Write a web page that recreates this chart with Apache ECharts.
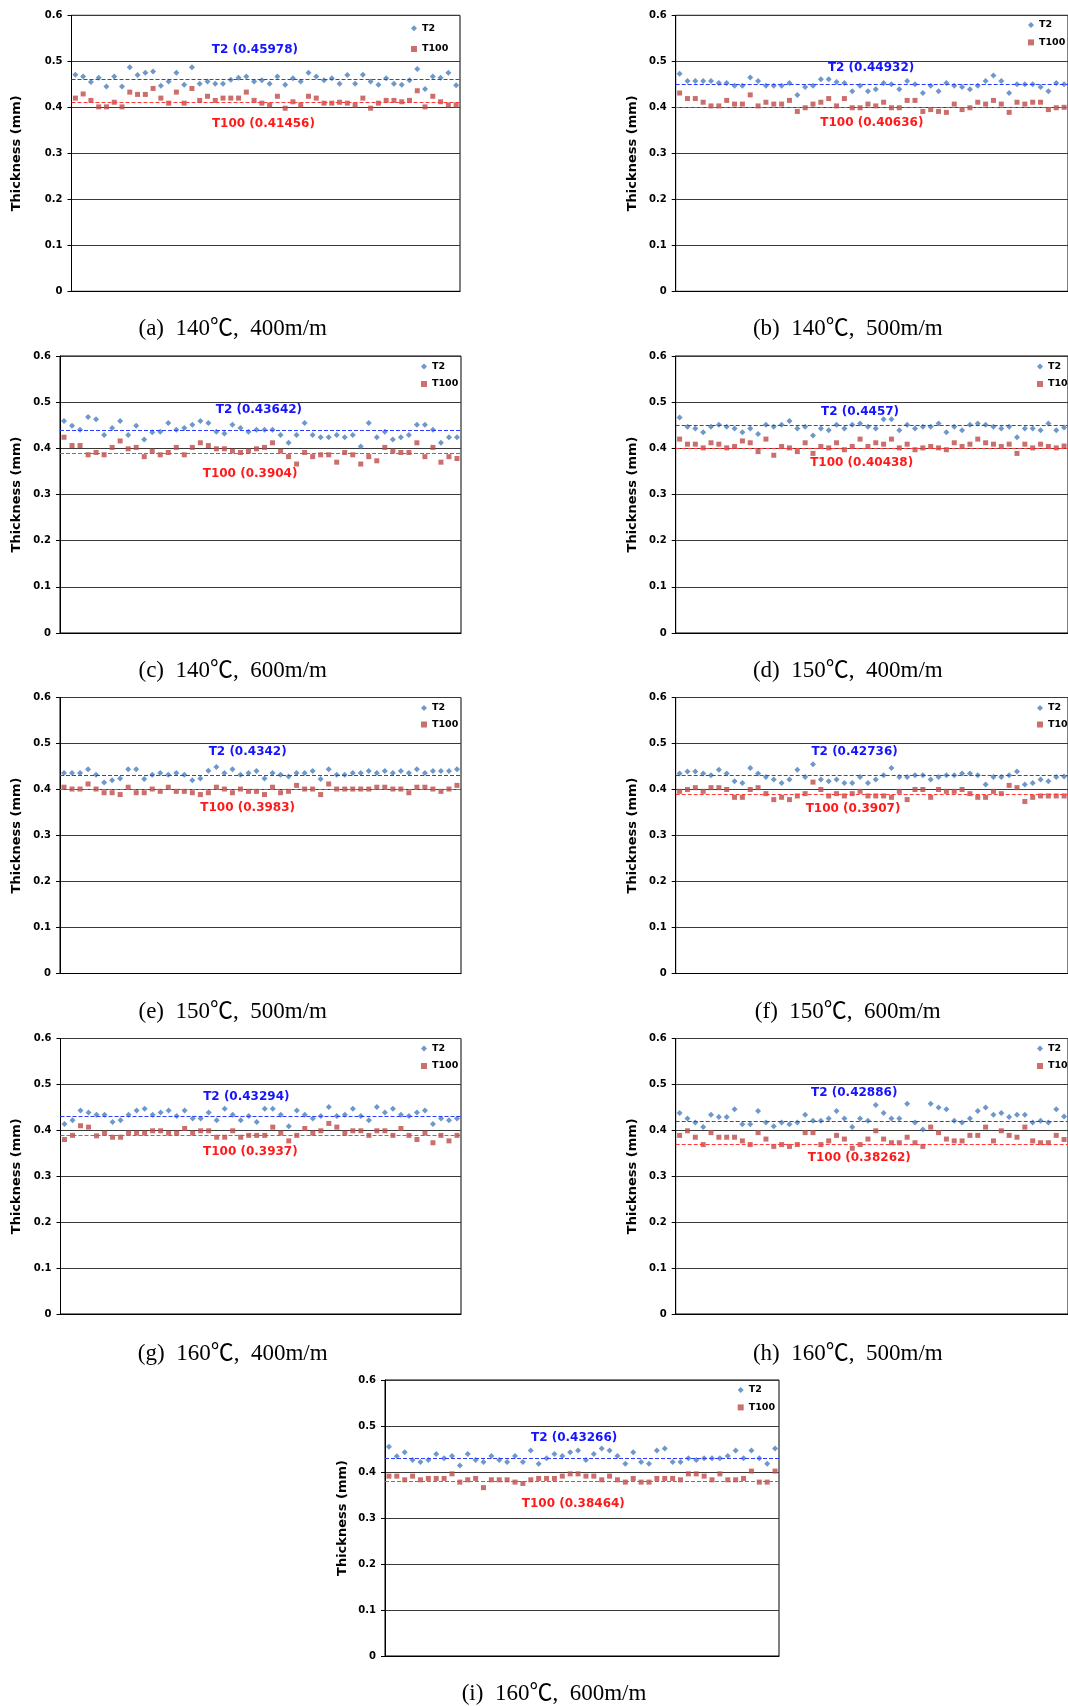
<!DOCTYPE html>
<html><head><meta charset="utf-8">
<script src="https://cdn.jsdelivr.net/npm/echarts@6/dist/echarts.min.js"></script>
<style>html,body{margin:0;padding:0;background:#fff}#c{width:1068px;height:1706px}</style>
</head><body><div id="c"></div><script>
// ---------------- DATA ----------------
const panels = ['a','b','c','d','e','f','g','h','i'];
const captions = ['(a)  140℃,  400m/m','(b)  140℃,  500m/m','(c)  140℃,  600m/m',
                  '(d)  150℃,  400m/m','(e)  150℃,  500m/m','(f)  150℃,  600m/m',
                  '(g)  160℃,  400m/m','(h)  160℃,  500m/m','(i)  160℃,  600m/m'];
const yTickLabels = ['0','0.1','0.2','0.3','0.4','0.5','0.6'];
const seriesNames = ['T2','T100'];

const t2_a = [0.471,0.467,0.455,0.464,0.445,0.467,0.445,0.487,0.470,0.475,0.478,0.447,0.456,0.475,0.449,0.487,0.451,0.456,0.451,0.451,0.460,0.464,0.467,0.456,0.459,0.451,0.467,0.449,0.463,0.456,0.475,0.467,0.459,0.463,0.451,0.470,0.451,0.471,0.456,0.449,0.463,0.451,0.449,0.459,0.483,0.440,0.467,0.464,0.475,0.448];
const t100_a = [0.420,0.429,0.415,0.401,0.401,0.411,0.401,0.433,0.428,0.428,0.441,0.420,0.409,0.433,0.409,0.441,0.415,0.424,0.415,0.420,0.420,0.420,0.433,0.415,0.409,0.405,0.424,0.398,0.412,0.405,0.424,0.420,0.409,0.409,0.411,0.409,0.405,0.420,0.398,0.409,0.415,0.415,0.412,0.415,0.436,0.401,0.424,0.412,0.405,0.405];
const t2_b = [0.473,0.457,0.457,0.457,0.457,0.453,0.453,0.447,0.447,0.465,0.457,0.447,0.447,0.447,0.453,0.427,0.444,0.447,0.461,0.461,0.455,0.453,0.435,0.447,0.435,0.439,0.453,0.450,0.439,0.457,0.450,0.431,0.447,0.435,0.453,0.447,0.444,0.439,0.447,0.457,0.469,0.457,0.431,0.450,0.450,0.450,0.444,0.435,0.453,0.450];
const t100_b = [0.431,0.419,0.419,0.411,0.403,0.403,0.415,0.407,0.407,0.427,0.403,0.411,0.407,0.407,0.415,0.391,0.399,0.407,0.411,0.419,0.403,0.419,0.399,0.399,0.407,0.403,0.411,0.399,0.399,0.415,0.415,0.391,0.395,0.391,0.389,0.407,0.395,0.399,0.411,0.407,0.415,0.407,0.389,0.411,0.407,0.411,0.411,0.395,0.399,0.400];
const t2_c = [0.459,0.449,0.440,0.468,0.463,0.429,0.444,0.459,0.429,0.449,0.419,0.435,0.436,0.455,0.440,0.444,0.451,0.459,0.455,0.436,0.432,0.451,0.444,0.436,0.440,0.440,0.440,0.429,0.412,0.429,0.455,0.429,0.424,0.424,0.429,0.424,0.429,0.404,0.455,0.424,0.436,0.419,0.424,0.429,0.451,0.451,0.440,0.412,0.424,0.424];
const t100_c = [0.424,0.406,0.406,0.386,0.391,0.386,0.402,0.416,0.399,0.402,0.382,0.394,0.386,0.391,0.402,0.386,0.402,0.412,0.406,0.399,0.399,0.394,0.391,0.394,0.399,0.402,0.412,0.394,0.382,0.366,0.391,0.382,0.386,0.386,0.370,0.391,0.386,0.366,0.382,0.373,0.402,0.394,0.391,0.391,0.412,0.382,0.402,0.370,0.382,0.378];
const t2_d = [0.467,0.447,0.443,0.435,0.447,0.451,0.447,0.443,0.435,0.443,0.431,0.451,0.447,0.451,0.459,0.443,0.447,0.428,0.443,0.439,0.451,0.443,0.451,0.454,0.447,0.443,0.463,0.463,0.439,0.451,0.443,0.447,0.447,0.454,0.435,0.447,0.439,0.451,0.454,0.451,0.447,0.443,0.447,0.424,0.443,0.443,0.439,0.454,0.439,0.445];
const t100_d = [0.420,0.409,0.409,0.401,0.412,0.409,0.401,0.404,0.416,0.412,0.393,0.420,0.385,0.404,0.401,0.393,0.412,0.389,0.404,0.401,0.412,0.397,0.404,0.420,0.404,0.412,0.409,0.420,0.401,0.409,0.397,0.401,0.404,0.401,0.397,0.412,0.404,0.409,0.420,0.412,0.409,0.404,0.409,0.389,0.409,0.401,0.409,0.404,0.401,0.405];
const t2_e = [0.436,0.436,0.436,0.444,0.432,0.415,0.420,0.424,0.444,0.444,0.423,0.432,0.436,0.432,0.436,0.432,0.420,0.424,0.441,0.449,0.436,0.444,0.432,0.436,0.440,0.424,0.436,0.432,0.428,0.436,0.436,0.440,0.423,0.444,0.432,0.432,0.436,0.436,0.440,0.436,0.440,0.436,0.440,0.436,0.444,0.436,0.440,0.440,0.440,0.444];
const t100_e = [0.405,0.401,0.401,0.412,0.401,0.393,0.393,0.389,0.405,0.393,0.393,0.401,0.396,0.405,0.396,0.396,0.393,0.389,0.393,0.405,0.401,0.393,0.401,0.396,0.396,0.389,0.405,0.393,0.396,0.409,0.401,0.401,0.389,0.412,0.401,0.401,0.401,0.401,0.401,0.405,0.405,0.401,0.401,0.393,0.405,0.405,0.401,0.396,0.401,0.409];
const t2_f = [0.435,0.439,0.439,0.435,0.431,0.443,0.435,0.418,0.414,0.447,0.435,0.427,0.422,0.414,0.422,0.443,0.427,0.455,0.422,0.418,0.422,0.414,0.414,0.427,0.414,0.422,0.431,0.447,0.427,0.427,0.431,0.431,0.422,0.427,0.431,0.431,0.435,0.435,0.431,0.411,0.427,0.427,0.431,0.439,0.411,0.414,0.422,0.418,0.427,0.428];
const t100_f = [0.396,0.400,0.404,0.396,0.404,0.404,0.400,0.383,0.383,0.400,0.404,0.391,0.378,0.383,0.378,0.386,0.391,0.416,0.400,0.386,0.391,0.386,0.391,0.396,0.386,0.386,0.386,0.383,0.396,0.378,0.400,0.400,0.383,0.400,0.396,0.396,0.400,0.391,0.383,0.383,0.396,0.391,0.409,0.404,0.374,0.383,0.386,0.386,0.386,0.386];
const t2_g = [0.414,0.422,0.443,0.439,0.434,0.434,0.418,0.422,0.434,0.443,0.447,0.434,0.439,0.443,0.431,0.443,0.426,0.426,0.439,0.422,0.447,0.434,0.422,0.431,0.418,0.447,0.447,0.434,0.409,0.443,0.434,0.426,0.431,0.451,0.431,0.434,0.447,0.431,0.422,0.451,0.439,0.447,0.434,0.431,0.439,0.443,0.414,0.426,0.422,0.426];
const t100_g = [0.380,0.389,0.410,0.407,0.388,0.394,0.385,0.385,0.394,0.394,0.394,0.399,0.399,0.394,0.394,0.404,0.394,0.399,0.399,0.385,0.385,0.399,0.385,0.389,0.389,0.389,0.407,0.394,0.377,0.389,0.404,0.394,0.399,0.415,0.407,0.394,0.399,0.399,0.389,0.399,0.399,0.389,0.404,0.389,0.380,0.394,0.373,0.389,0.377,0.389];
const t2_h = [0.438,0.426,0.417,0.407,0.434,0.429,0.429,0.446,0.413,0.413,0.442,0.417,0.409,0.417,0.413,0.417,0.434,0.421,0.421,0.426,0.442,0.426,0.407,0.426,0.421,0.455,0.438,0.426,0.426,0.458,0.417,0.402,0.458,0.450,0.446,0.421,0.417,0.426,0.442,0.450,0.434,0.438,0.429,0.434,0.434,0.417,0.421,0.417,0.446,0.430];
const t100_h = [0.389,0.399,0.385,0.369,0.395,0.385,0.385,0.385,0.377,0.369,0.395,0.381,0.365,0.369,0.365,0.369,0.395,0.395,0.369,0.377,0.389,0.381,0.361,0.369,0.381,0.399,0.381,0.373,0.373,0.385,0.373,0.365,0.407,0.395,0.381,0.377,0.377,0.389,0.389,0.407,0.377,0.399,0.389,0.385,0.407,0.377,0.373,0.373,0.389,0.380];
const t2_i = [0.455,0.434,0.443,0.426,0.422,0.426,0.439,0.430,0.435,0.414,0.439,0.426,0.422,0.435,0.426,0.422,0.435,0.422,0.447,0.418,0.430,0.439,0.435,0.443,0.447,0.426,0.439,0.451,0.447,0.435,0.418,0.443,0.422,0.418,0.447,0.451,0.422,0.422,0.430,0.426,0.430,0.430,0.430,0.435,0.447,0.430,0.447,0.430,0.418,0.451];
const t100_i = [0.391,0.391,0.383,0.391,0.383,0.386,0.386,0.386,0.396,0.378,0.383,0.386,0.366,0.383,0.383,0.383,0.378,0.375,0.383,0.386,0.386,0.386,0.391,0.396,0.396,0.391,0.391,0.383,0.391,0.383,0.378,0.386,0.378,0.378,0.386,0.386,0.386,0.383,0.396,0.396,0.391,0.383,0.396,0.383,0.383,0.386,0.402,0.378,0.378,0.402];

// stated means (label text) and drawn dashed-line levels
const t2MeanText   = ['0.45978','0.44932','0.43642','0.4457','0.4342','0.42736','0.43294','0.42886','0.43266'];
const t100MeanText = ['0.41456','0.40636','0.3904','0.40438','0.3983','0.3907','0.3937','0.38262','0.38464'];
const t2DashLevel   = [0.458,0.449,0.438,0.450,0.433,0.4275,0.4336,0.425,0.426];
const t100DashLevel = [0.409,0.400,0.3936,0.4007,0.398,0.3877,0.3905,0.3745,0.376];

const t2All   = [t2_a,t2_b,t2_c,t2_d,t2_e,t2_f,t2_g,t2_h,t2_i];
const t100All = [t100_a,t100_b,t100_c,t100_d,t100_e,t100_f,t100_g,t100_h,t100_i];

// ---------------- LAYOUT (positions / styles) ----------------
const rowTop = [15.3, 356, 697.5, 1038.5, 1380];
const rowH   = [276, 277, 276, 275.5, 276];
const layout = [
  {l:71.5, w:388.5, r:0, gap:48, leg:[414,28.3,20.7], cap:[232.7,329.4], t2L:[24.1,0.525], t100L:[25.2,0.363]},
  {l:675.7,w:400,   r:0, gap:37, leg:[1031,25,17.4],  cap:[847.8,329.4], t2L:[25.4,0.485], t100L:[25.5,0.366]},
  {l:60,   w:401,   r:1, gap:37, leg:[424,366.5,17.5],cap:[232.7,670.9], t2L:[25.3,0.484], t100L:[24.2,0.345]},
  {l:675.7,w:400,   r:1, gap:37, leg:[1040,366.5,17.5],cap:[847.8,670.9],t2L:[24.0,0.480], t100L:[24.2,0.368]},
  {l:60,   w:401,   r:2, gap:37, leg:[424,708,16.5],  cap:[232.7,1012.4],t2L:[23.9,0.482], t100L:[23.9,0.360]},
  {l:675.7,w:400,   r:2, gap:37, leg:[1040,708,16.5], cap:[847.8,1012.4],t2L:[23.3,0.482], t100L:[23.1,0.357]},
  {l:60.5, w:400.5, r:3, gap:37, leg:[424,1048.5,17.5],cap:[232.7,1354], t2L:[23.7,0.473], t100L:[24.2,0.353]},
  {l:675.7,w:400,   r:3, gap:37, leg:[1040,1048.5,17.5],cap:[847.8,1354],t2L:[23.25,0.481],t100L:[23.9,0.339]},
  {l:385,  w:394,   r:4, gap:36, leg:[740.7,1390,17.4],cap:[554,1694.3], t2L:[24.5,0.474], t100L:[24.4,0.330]}
];
const C_T2 = '#4A7EBB', C_T100 = '#BE4B48';
const C_T2_LINE = '#2B3BFF', C_T100_LINE = '#FF3B3B';
const C_T2_TXT = '#1414FF', C_T100_TXT = '#FF1A1A';
const SANS = '"DejaVu Sans", "Liberation Sans", sans-serif';

const grid=[], xAxis=[], yAxis=[], series=[], legend=[], graphic=[];
panels.forEach((p,i)=>{
  const L = layout[i];
  grid.push({left:L.l, top:rowTop[L.r], width:L.w, height:rowH[L.r], show:true,
             borderColor:'#000', borderWidth:1, backgroundColor:'rgba(0,0,0,0)', containLabel:false});
  xAxis.push({type:'value', gridIndex:i, min:0.5, max:t2All[i].length+0.5,
    axisLine:{show:true, onZero:false, lineStyle:{color:'#000', width:1}},
    axisTick:{show:false}, axisLabel:{show:false}, splitLine:{show:false}});
  yAxis.push({type:'value', gridIndex:i, min:0, max:0.6, interval:0.1,
    name:'Thickness (mm)', nameLocation:'middle', nameGap:L.gap,
    nameTextStyle:{fontFamily:SANS, fontWeight:'bold', fontSize:13, color:'#000'},
    axisLine:{show:true, lineStyle:{color:'#000', width:1}},
    axisTick:{show:true, length:4, lineStyle:{color:'#000'}},
    axisLabel:{margin:9, fontFamily:SANS, fontWeight:'bold', fontSize:10, color:'#000',
      formatter:(v)=>yTickLabels[Math.round(v*10)]},
    splitLine:{show:true, lineStyle:{color:'#3a3a3a', width:1}}});
  const mkLabel = (txt,col,at)=>({
    data:[{coord:at, symbol:'circle', symbolSize:1, itemStyle:{color:'rgba(0,0,0,0)'},
      label:{show:true, position:'inside', formatter:txt, color:col, fontFamily:SANS,
             fontWeight:'bold', fontSize:12}}],
    silent:true, animation:false});
  series.push({type:'scatter', name:seriesNames[0], xAxisIndex:i, yAxisIndex:i,
    symbol:'diamond', symbolSize:6, itemStyle:{color:C_T2},
    data:t2All[i].map((v,k)=>[k+1,v]), z:3,
    markLine:{silent:true, symbol:'none', animation:false, label:{show:false},
      lineStyle:{type:[4,2], color:C_T2_LINE, width:1}, data:[{yAxis:t2DashLevel[i]}]},
    markPoint:mkLabel(seriesNames[0]+' ('+t2MeanText[i]+')', C_T2_TXT, L.t2L)});
  series.push({type:'scatter', name:seriesNames[1], xAxisIndex:i, yAxisIndex:i,
    symbol:'rect', symbolSize:5, itemStyle:{color:C_T100},
    data:t100All[i].map((v,k)=>[k+1,v]), z:3,
    markLine:{silent:true, symbol:'none', animation:false, label:{show:false},
      lineStyle:{type:[4,2], color:C_T100_LINE, width:1}, data:[{yAxis:t100DashLevel[i]}]},
    markPoint:mkLabel(seriesNames[1]+' ('+t100MeanText[i]+')', C_T100_TXT, L.t100L)});
  legend.push({show:true, orient:'vertical', left:L.leg[0]-3, top:L.leg[1]-6, padding:0,
    itemWidth:6, itemHeight:6, itemGap:L.leg[2]-12, selectedMode:false,
    data:[{name:seriesNames[0], icon:'diamond'},{name:seriesNames[1], icon:'rect'}],
    textStyle:{fontFamily:SANS, fontWeight:'bold', fontSize:9.5, color:'#000', lineHeight:12}});
  graphic.push({type:'text', x:L.cap[0], y:L.cap[1], silent:true,
    style:{text:captions[i], fontSize:23, fontFamily:'"Liberation Serif", "Noto Sans CJK SC", serif',
           fill:'#000', align:'center', verticalAlign:'middle'}});
});

const chart = echarts.init(document.getElementById('c'), null, {renderer:'canvas'});
chart.setOption({animation:false, backgroundColor:'#fff', grid, xAxis, yAxis, series, legend, graphic});
</script></body></html>
